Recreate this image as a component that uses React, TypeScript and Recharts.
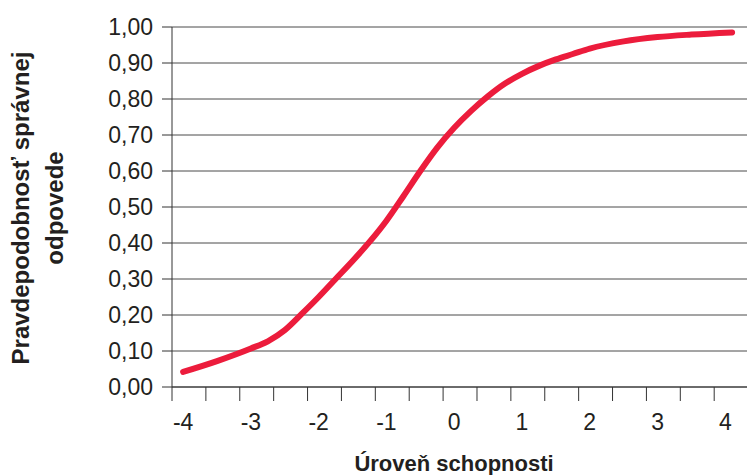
import { LineChart, Line, XAxis, YAxis, CartesianGrid, Label } from "recharts";

// ability level (theta) and probability of a correct answer
const ability = [-4, -3.5, -3, -2.75, -2.5, -2.25, -2, -1.75, -1.5, -1.25, -1, -0.75, -0.5, -0.25, 0, 0.25, 0.5, 0.75, 1, 1.25, 1.5, 1.75, 2, 2.5, 3, 3.5, 4.1];
const probability = [0.042, 0.072, 0.107, 0.127, 0.158, 0.203, 0.25, 0.3, 0.35, 0.403, 0.462, 0.53, 0.6, 0.665, 0.72, 0.767, 0.808, 0.843, 0.87, 0.892, 0.91, 0.925, 0.94, 0.96, 0.972, 0.979, 0.985];

const xLabels = [-4, -3, -2, -1, 0, 1, 2, 3, 4];
const xTickMarks = [-4.164, -3.664, -3.164, -2.664, -2.164, -1.664, -1.164, -0.664, -0.164, 0.336, 0.836, 1.336, 1.836, 2.336, 2.836, 3.336, 3.836];
const yTicks = [0, 0.1, 0.2, 0.3, 0.4, 0.5, 0.6, 0.7, 0.8, 0.9, 1];

const data = ability.map((x, i) => ({ x, p: probability[i] }));

const FONT = "'Liberation Sans', Arial, Helvetica, sans-serif";
const TEXT = "#231f20";
const X_DOMAIN: [number, number] = [-4.164, 4.32];

const YTitle = () => (
    <g fontFamily={FONT} fontWeight="bold" fontSize={24} fill={TEXT} textAnchor="middle">
        <text x={29} y={208} transform="rotate(-90, 29, 208)">Pravdepodobnosť správnej</text>
        <text x={63} y={208} transform="rotate(-90, 63, 208)">odpovede</text>
    </g>
);

const XTitle = (props: any) => {
    const vb = props.viewBox || { x: 0, y: 0 };
    return (
        <text x={vb.x + 282} y={vb.y + 84} fontFamily={FONT} fontWeight="bold" fontSize={22} fill={TEXT} textAnchor="middle">
            Úroveň schopnosti
        </text>
    );
};

// tick marks sit every half unit, offset from the integer labels
const XTick = (props: any) => {
    const { x, y, payload } = props;
    const v = payload.value;
    if (xTickMarks.includes(v)) {
        return <line x1={x} x2={x} y1={y} y2={y + 14} stroke="#333" strokeWidth={1} />;
    }
    return (
        <text x={x} y={y + 27} dy="0.71em" textAnchor="middle" fontFamily={FONT} fontSize={23} fill={TEXT}>
            {v}
        </text>
    );
};

export default function App() {
    return (
        <div style={{ position: "absolute", left: 0, top: 0, background: "#fff" }}>
            <LineChart width={747} height={475} data={data} margin={{ top: 27, right: 0, bottom: 0, left: 0 }}>
                <CartesianGrid vertical={false} stroke="#4a4a4a" strokeWidth={1} />
                <XAxis
                    dataKey="x"
                    type="number"
                    domain={X_DOMAIN}
                    ticks={[...xTickMarks, ...xLabels]}
                    allowDataOverflow
                    interval={0}
                    height={88}
                    tickLine={false}
                    tickSize={0}
                    tickMargin={0}
                    axisLine={{ stroke: "#333" }}
                    tick={XTick}
                >
                    <Label content={XTitle} />
                </XAxis>
                <YAxis
                    type="number"
                    domain={[0, 1]}
                    ticks={yTicks}
                    width={172}
                    tickSize={10}
                    tickMargin={9}
                    tickFormatter={(v: number) => v.toFixed(2).replace(".", ",")}
                    axisLine={{ stroke: "#333" }}
                    tickLine={{ stroke: "#333" }}
                    tick={{ fontFamily: FONT, fontSize: 23, fill: TEXT }}
                >
                    <Label content={YTitle} />
                </YAxis>
                <Line
                    dataKey="p"
                    type="monotone"
                    stroke="#ec1c3c"
                    strokeWidth={6}
                    strokeLinecap="round"
                    dot={false}
                    activeDot={false}
                    isAnimationActive={false}
                />
            </LineChart>
        </div>
    );
}
